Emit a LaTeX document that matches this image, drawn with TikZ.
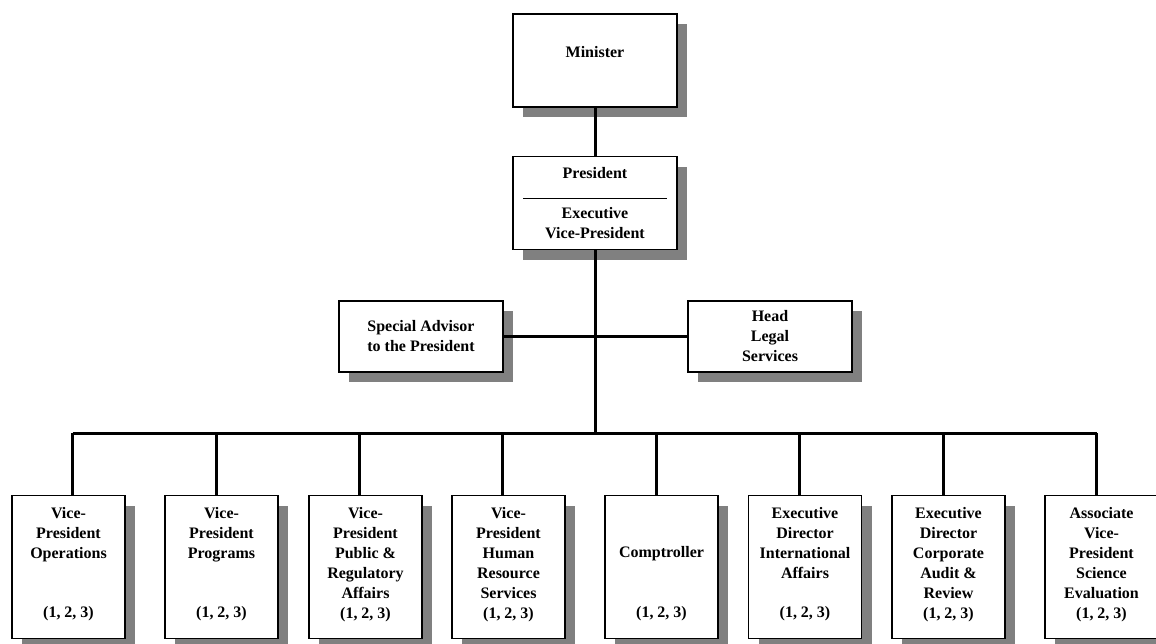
\documentclass[tikz,border=0pt]{standalone}
\usepackage{fontspec}
\setmainfont{Liberation Serif}
\usetikzlibrary{positioning,calc,shadows}
\newcommand*{\Unit}[4]{\node[unit] (#1) at (#2,495)
    {\parbox[c][60pt][s]{56pt}{\centering #4\vfill (1, 2, 3)\vspace{3pt}}};
  \draw[conn] ([xshift=#3]#1.north) -- ([xshift=#3]#1.north |- bus);
}

\begin{document}
\begin{tikzpicture}[x=0.5pt,y=-0.5pt,font=\fontsize{8}{10}\selectfont\bfseries]
\tikzstyle{office}=[draw,line width=0.6pt,fill=white,inner sep=0pt,
  drop shadow={shadow xshift=5pt,shadow yshift=-5pt,fill=gray,opacity=1}]
\tikzstyle{topbox}=[office,minimum width=82pt,minimum height=46.5pt,align=center]
\tikzstyle{sidebox}=[office,minimum width=82pt,minimum height=35.5pt]
\tikzstyle{unit}=[office,anchor=north,minimum width=56.5pt,minimum height=71.5pt]
\tikzstyle{conn}=[line width=1.5pt]
\useasboundingbox (0,0) rectangle (1156,643);
% top of the chart
\node[topbox,text depth=8.5pt] (min) at (595,60.5) {Minister};
\node[topbox] (pres) at (595,203)
  {President\\\rule{72pt}{0.4pt}\\Executive\\Vice-President};
\node[sidebox,align=left] (adv) at (421,336.5) {Special Advisor\\to the President};
\node[sidebox,align=center] (legal) at (770,336.5) {Head\\Legal\\Services};
\coordinate (bus) at (595,433);
\draw[conn] (min) -- (pres);
\draw[conn] (pres) -- (bus);
\draw[conn] (adv) -- (legal);
% units
\Unit{ops}{68.5}{2pt}{Vice-\\President\\Operations}
\Unit{prog}{221.5}{-2.5pt}{Vice-\\President\\Programs}
\Unit{pub}{365.5}{-3pt}{Vice-\\President\\Public \&\\Regulatory\\Affairs}
\Unit{hr}{508.5}{-3pt}{Vice-\\President\\Human\\Resource\\Services}
\Unit{comp}{661.5}{-2.5pt}{\vfill Comptroller}
\Unit{intl}{805}{-3pt}{Executive\\Director\\International\\Affairs}
\Unit{audit}{948.5}{-2.5pt}{Executive\\Director\\Corporate\\Audit \&\\Review}
\Unit{sci}{1101.5}{-2.5pt}{Associate\\Vice-\\President\\Science\\Evaluation}
\draw[conn] ([xshift=2pt]ops.north |- bus) -- ([xshift=-2.5pt]sci.north |- bus);
\end{tikzpicture}
\end{document}
